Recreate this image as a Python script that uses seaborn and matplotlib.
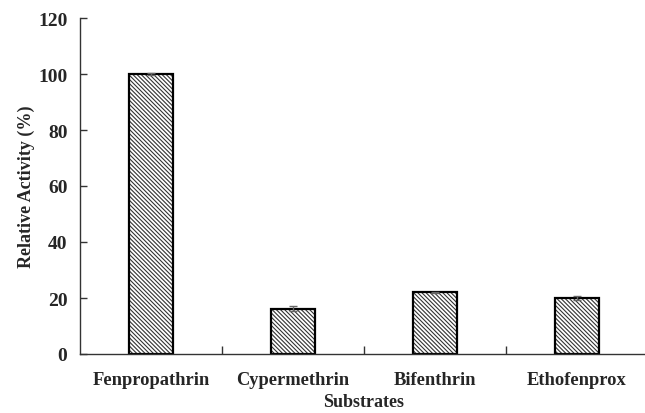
import matplotlib
matplotlib.use("Agg")
import matplotlib.pyplot as plt
import seaborn as sns
import pandas as pd
import numpy as np

categories = ["Fenpropathrin", "Cypermethrin", "Bifenthrin", "Ethofenprox"]
activity = [100.0, 16.2, 22.0, 20.0]
errors = [0.3, 1.0, 0.3, 0.6]
yticks = [0, 20, 40, 60, 80, 100, 120]

sns.set_style("ticks")
plt.rcParams["font.family"] = ["Liberation Serif", "DejaVu Serif"]
plt.rcParams["font.weight"] = "bold"
plt.rcParams["hatch.linewidth"] = 0.8
plt.rcParams["hatch.color"] = "#333333"

df = pd.DataFrame({"Substrate": categories, "Activity": activity})

fig = plt.figure(figsize=(6.45, 4.14), dpi=100)
ax = fig.add_axes([80/645, 59/414, 568/645, 336/414])

sns.barplot(data=df, x="Substrate", y="Activity", order=categories,
            width=0.31, color="white", edgecolor="#333333", linewidth=0,
            hatch="\\" * 8, errorbar=None, ax=ax)
# outline
sns.barplot(data=df, x="Substrate", y="Activity", order=categories,
            width=0.31, fill=False, edgecolor="black", linewidth=1.6,
            errorbar=None, ax=ax)

ax.errorbar(x=np.arange(len(categories)), y=activity, yerr=errors, fmt="none",
            ecolor="#666666", elinewidth=1.0, capsize=3, capthick=1.0, zorder=5)

ax.set_xlim(-0.5, 3.5)
ax.set_ylim(0, 120)
ax.set_yticks(yticks)
ax.set_yticklabels([str(t) for t in yticks], fontsize=14, fontweight="bold")
ax.set_xticks(range(len(categories)))
ax.set_xticklabels(categories, fontsize=13.3, fontweight="bold")
ax.tick_params(axis="x", which="major", length=0, pad=12)
ax.set_xticks([0.5, 1.5, 2.5], minor=True)
ax.tick_params(axis="x", which="minor", direction="in", length=6, width=1.0, color="#333333")
ax.tick_params(axis="y", direction="in", length=5, width=1.0, color="#333333", pad=9)

ax.set_xlabel("Substrates", fontsize=13, fontweight="bold", labelpad=4)
ax.set_ylabel("Relative Activity (%)", fontsize=13, fontweight="bold", labelpad=2)

for s in ["top", "right"]:
    ax.spines[s].set_visible(False)
for s in ["left", "bottom"]:
    ax.spines[s].set_linewidth(1.0)
    ax.spines[s].set_color("#333333")

fig.savefig("out.png", dpi=100)
